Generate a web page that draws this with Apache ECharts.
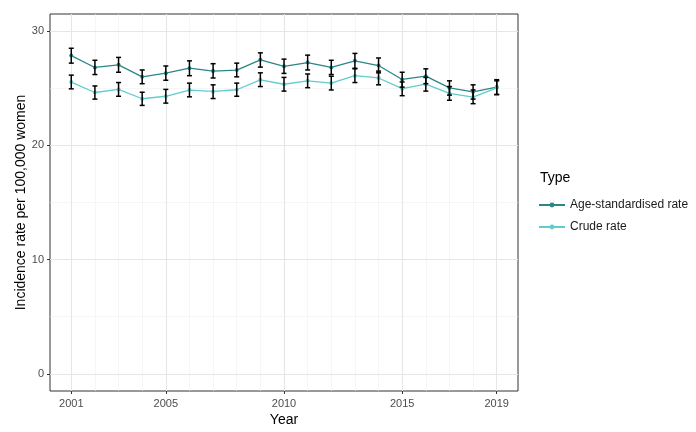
<!DOCTYPE html>
<html>
<head>
<meta charset="utf-8">
<script src="https://cdn.jsdelivr.net/npm/echarts@6/dist/echarts.min.js"></script>
<style>html,body{margin:0;padding:0;background:#fff;}#c{width:696px;height:432px;}</style>
</head>
<body>
<div id="c"></div>
<script>
const years = [2001,2002,2003,2004,2005,2006,2007,2008,2009,2010,2011,2012,2013,2014,2015,2016,2017,2018,2019];
const ageRate = [27.86,26.82,27.05,26.0,26.32,26.76,26.5,26.59,27.49,26.92,27.25,26.82,27.4,26.99,25.77,26.06,25.04,24.69,25.1];
const ageLow  = [27.2,26.2,26.4,25.4,25.7,26.1,25.9,26.0,26.85,26.3,26.6,26.2,26.75,26.35,25.1,25.4,24.4,24.05,24.45];
const ageHigh = [28.5,27.45,27.7,26.6,26.95,27.4,27.15,27.2,28.1,27.55,27.9,27.45,28.05,27.65,26.4,26.7,25.65,25.3,25.75];
const crudeRate = [25.54,24.63,24.9,24.08,24.3,24.84,24.72,24.87,25.74,25.35,25.65,25.45,26.1,25.9,24.96,25.36,24.55,24.23,25.04];
const crudeLow  = [24.95,24.05,24.3,23.5,23.7,24.25,24.1,24.3,25.15,24.75,25.05,24.85,25.5,25.3,24.35,24.75,23.95,23.65,24.45];
const crudeHigh = [26.15,25.2,25.5,24.65,24.9,25.45,25.3,25.45,26.35,25.95,26.25,26.05,26.7,26.5,25.55,25.95,25.15,24.85,25.65];
const xTicks = [2001,2005,2010,2015,2019];
const yTicks = [0,10,20,30];
const yMinor = [5,15,25];

const chart = echarts.init(document.getElementById('c'), null, {renderer:'canvas'});
const FONT = 'Liberation Sans, Arial, sans-serif';

const gridMarks = [];
years.forEach(y => {
  const major = xTicks.includes(y);
  gridMarks.push({xAxis: y, lineStyle: {color: major ? '#e6e6e6' : '#f0f0f0', width: major ? 1.1 : 0.6, type:'solid'}});
});
yTicks.forEach(v => gridMarks.push({yAxis: v, lineStyle: {color:'#e6e6e6', width:1.1, type:'solid'}}));
yMinor.forEach(v => gridMarks.push({yAxis: v, lineStyle: {color:'#f0f0f0', width:0.6, type:'solid'}}));

function errData(low, high){ return years.map((y,i)=>[y, low[i], high[i]]); }
function errRender(params, api){
  const x = api.value(0);
  const lo = api.coord([x, api.value(1)]);
  const hi = api.coord([x, api.value(2)]);
  const hw = 2.5, lw = 1.5;
  const st = {fill:'#000'};
  return {type:'group', children:[
    {type:'rect', shape:{x:lo[0]-lw/2, y:hi[1], width:lw, height:lo[1]-hi[1]}, style:st},
    {type:'rect', shape:{x:lo[0]-hw, y:lo[1]-lw/2, width:hw*2, height:lw}, style:st},
    {type:'rect', shape:{x:hi[0]-hw, y:hi[1]-lw/2, width:hw*2, height:lw}, style:st}
  ]};
}

const AGE_C = '#2a8787';
const CRUDE_C = '#62cccc';

chart.setOption({
  animation:false,
  backgroundColor:'#fff',
  title:{text:'Type', left:535, top:166, textStyle:{fontFamily:FONT, fontSize:14, fontWeight:'normal', color:'#000'}},
  legend:{
    orient:'vertical', left:533, top:194, itemWidth:26, itemHeight:6, itemGap:10,
    textStyle:{fontFamily:FONT, fontSize:12, color:'#1a1a1a'},
    data:['Age-standardised rate','Crude rate']
  },
  grid:{left:50, top:14, width:468, height:378, show:true, borderColor:'#333', borderWidth:1, backgroundColor:'#fff'},
  xAxis:{
    type:'value', min:2000.1, max:2019.9,
    name:'Year', nameLocation:'middle', nameGap:22, nameMoveOverlap:false,
    nameTextStyle:{fontFamily:FONT, fontSize:14, color:'#000'},
    axisLine:{show:false, onZero:false},
    axisTick:{show:true, length:3, lineStyle:{color:'#333'}, customValues:xTicks},
    axisLabel:{customValues:xTicks, fontFamily:FONT, fontSize:11, color:'#4d4d4d', margin:7, formatter:v=>String(v)},
    splitLine:{show:false}
  },
  yAxis:{
    type:'value', min:-1.5, max:31.5,
    name:'Incidence rate per 100,000 women', nameLocation:'middle', nameGap:22, nameMoveOverlap:false,
    nameTextStyle:{fontFamily:FONT, fontSize:14, color:'#000'},
    axisLine:{show:false, onZero:false},
    axisTick:{show:true, length:3, lineStyle:{color:'#333'}, customValues:yTicks},
    axisLabel:{customValues:yTicks, fontFamily:FONT, fontSize:11, color:'#4d4d4d', margin:6},
    splitLine:{show:false}
  },
  series:[
    {type:'line', name:'_grid', data:[], z:0, silent:true,
     markLine:{z:0, silent:true, symbol:'none', label:{show:false}, animation:false, data:gridMarks}},
    {type:'line', name:'Age-standardised rate', data:years.map((y,i)=>[y,ageRate[i]]), z:6,
     color:AGE_C, lineStyle:{color:AGE_C, width:1.3}, symbol:'circle', symbolSize:4, itemStyle:{color:AGE_C}},
    {type:'line', name:'Crude rate', data:years.map((y,i)=>[y,crudeRate[i]]), z:6,
     color:CRUDE_C, lineStyle:{color:CRUDE_C, width:1.3}, symbol:'circle', symbolSize:4, itemStyle:{color:CRUDE_C}},
    {type:'custom', name:'_errA', data:errData(ageLow, ageHigh), renderItem:errRender, z:7, silent:true,
     encode:{x:0, y:[1,2]}},
    {type:'custom', name:'_errC', data:errData(crudeLow, crudeHigh), renderItem:errRender, z:7, silent:true,
     encode:{x:0, y:[1,2]}}
  ]
});
</script>
</body>
</html>
